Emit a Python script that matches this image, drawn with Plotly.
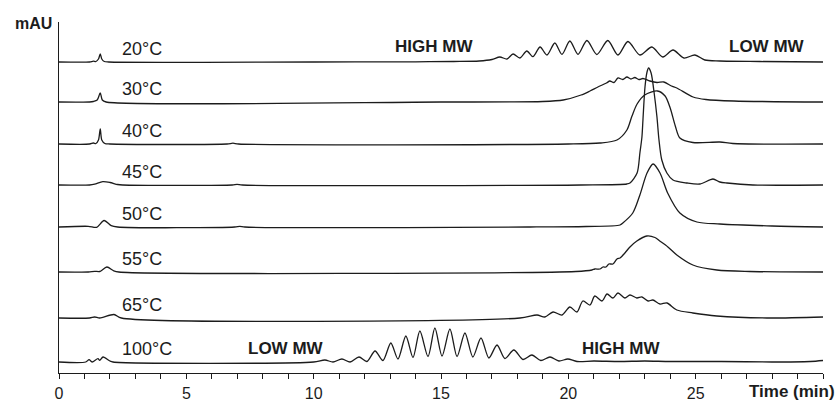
import plotly.graph_objects as go

# ---- data (time in min, signal above each trace's own baseline) ----
labels = ["20°C", "30°C", "40°C", "45°C", "50°C", "55°C", "65°C", "100°C"]
offsets = [311, 271, 229, 188, 146, 101, 55, 11]

t_20 = [0, 1.2, 1.35, 1.45, 1.55, 1.62, 1.68, 1.78, 1.95, 10, 14, 15.5, 16.5, 17.0,
        17.31, 17.59, 17.83, 18.10, 18.37, 18.61, 18.89, 19.16, 19.47, 19.75, 20.06, 20.38,
        20.73, 21.12, 21.55, 21.95, 22.34, 22.81, 23.28, 23.71, 24.11, 24.54, 24.97, 25.36,
        25.95, 27.52, 30]
h_20 = [0, 0, 0.8, 0.5, 3, 8, 3, 0.5, 0, 0, 0.2, 0.5, 1, 2.5,
        5, 3, 8, 4, 11, 5.3, 15, 7, 19, 7.7, 21, 7.7,
        21.5, 7.5, 21.5, 7, 20.5, 7, 15, 5, 12, 4, 7, 2,
        1, 0.5, 0]

t_30 = [0, 1.2, 1.35, 1.5, 1.62, 1.7, 1.85, 15, 19.0, 19.8, 20.5, 20.85, 21.16, 21.5,
        21.63, 21.79, 21.95, 22.14, 22.30, 22.46, 22.61, 22.77, 22.93, 23.2, 23.48, 23.75,
        24.05, 24.26, 24.9, 25.4, 26.5, 30]
h_30 = [0, 0, 0.5, 2, 9, 2, 0, 0, 0.5, 2, 7, 11, 15, 19,
        21, 19.5, 24, 22.5, 25, 23, 24.5, 22.5, 23.5, 21, 19.5, 20,
        16, 14, 5, 2.5, 1, 0]

t_40 = [0, 1.2, 1.35, 1.45, 1.55, 1.62, 1.68, 1.8, 2.0, 6.6, 6.83, 7.05, 20, 21.24, 21.91,
        22.30, 22.5, 22.7, 23.0, 23.5, 23.8, 24.0, 24.2, 24.38, 24.89, 25.95, 26.46, 30]
h_40 = [0, 0, 1, 0.5, 4, 15, 4, 0.5, 0, 0, 0.8, 0, 0, 1, 4,
        14, 28, 40, 49, 53, 48, 36, 18, 6, 1.5, 2, 0.5, 0]

t_45 = [0, 1.2, 1.4, 1.72, 2.0, 2.3, 2.5, 6.8, 6.99, 7.2, 20.5, 22.3, 22.42, 22.7, 22.81,
        22.89, 22.93, 23.01, 23.09, 23.15, 23.25, 23.37, 23.48, 23.56, 23.67, 23.87, 24.11,
        24.66, 25.17, 25.68, 25.95, 26.23, 27.25, 30]
h_45 = [0, 0, 0.8, 3.3, 2.5, 0.5, 0, 0, 0.7, 0, 0, 1, 2, 12, 32,
        48, 65, 98, 113, 117, 112, 92, 68, 45, 25, 12, 5,
        2, 1, 6, 3, 2, 0, 0]

t_50 = [0, 1.15, 1.48, 1.77, 2.05, 2.3, 6.9, 7.1, 7.3, 18.5, 20.7, 22.03, 22.14, 22.53, 22.81,
        23.09, 23.33, 23.6, 23.9, 24.38, 25.05, 25.95, 28, 30]
h_50 = [0, 0.7, -0.3, 6.5, 1.3, 0, 0, 0.7, 0, 0, 0.5, 2, 4, 14, 32,
        54, 63, 54, 34, 14, 5, 3, 1, 0]

t_55 = [0, 1.15, 1.4, 1.6, 1.88, 2.15, 2.35, 20.3, 20.93, 21.04, 21.24, 21.36, 21.48, 21.59,
        21.75, 21.91, 22.03, 22.22, 22.42, 22.69, 23.08, 23.4, 23.59, 23.91, 24.26, 24.89,
        25.83, 27.13, 30]
h_55 = [0, 0, 0.7, 0.5, 5, 1.2, 0, 0.5, 2, 3, 3, 5, 5, 8,
        8, 13, 14, 19, 25, 31, 36, 34.5, 31, 25, 17, 7,
        2, 0.5, 0]

t_65 = [0, 1.2, 1.4, 1.6, 2.16, 2.45, 18.1, 18.77, 19.08, 19.4, 19.75, 20.06, 20.34, 20.57,
        20.85, 21.04, 21.32, 21.52, 21.75, 21.95, 22.22, 22.42, 22.69, 22.89, 23.13, 23.32,
        23.6, 23.87, 24.26, 24.89, 25.83, 27.8, 30]
h_65 = [0, 0, 1, 0, 3.5, 0, 0, 3, 1, 6, 3, 11, 6, 17,
        13, 22, 17, 24, 20, 25, 20, 23, 20, 21, 17, 18,
        14, 15, 8, 5, 2, 0, 1]

t_100 = [0, 1.05, 1.18, 1.3, 1.53, 1.6, 1.73, 2.0, 2.12, 10.0, 10.44, 10.76, 11.11, 11.43,
         11.78, 12.09, 12.41, 12.72, 13.03, 13.31, 13.62, 13.9, 14.17, 14.49, 14.76, 15.04,
         15.35, 15.63, 15.94, 16.25, 16.57, 16.88, 17.2, 17.51, 17.86, 18.22, 18.57, 18.92,
         19.28, 19.63, 19.98, 20.34, 21, 22, 23, 24, 26, 28, 29.5, 30]
h_100 = [0, 0, 2.3, 0, 3.3, 1.7, 5, 1, 0, 0, 2, 0, 3, 0,
         5, 0.5, 11, 1.5, 19, 3, 26, 4.5, 31, 5.5, 34, 6,
         33, 5.5, 29, 5, 24, 4, 17, 3.5, 12, 2.5, 7, 1.5,
         5, 1, 3, 0.5, 1, 0.5, 1, 0.5, 0.5, 0, 0.5, 1.5]

series_t = [t_20, t_30, t_40, t_45, t_50, t_55, t_65, t_100]
series_h = [h_20, h_30, h_40, h_45, h_50, h_55, h_65, h_100]

x_ticks = [0, 5, 10, 15, 20, 25, 30]
x_tick_text = ["0", "5", "10", "15", "20", "25", ""]

mw_labels = [("HIGH MW", 14.72, 327), ("LOW MW", 27.8, 327),
             ("LOW MW", 8.91, 25), ("HIGH MW", 22.07, 25)]

FONT = "Liberation Sans, Arial, Helvetica, sans-serif"
INK = "#1c1c1c"

fig = go.Figure()
for lab, off, ts, hs in zip(labels, offsets, series_t, series_h):
    fig.add_trace(go.Scatter(
        x=ts, y=[off + h for h in hs], mode="lines",
        line=dict(color=INK, width=1.3, shape="spline", smoothing=0.8),
        name=lab, showlegend=False, hoverinfo="skip"))
    fig.add_annotation(x=2.4, y=off + 13, text=lab, showarrow=False,
                       xanchor="left", yanchor="middle",
                       font=dict(family=FONT, size=18, color=INK))

for txt, xt, yv in mw_labels:
    fig.add_annotation(x=xt, y=yv, text="<b>" + txt + "</b>", showarrow=False,
                       xanchor="center", yanchor="middle",
                       font=dict(family=FONT, size=17, color=INK))

fig.add_annotation(xref="paper", yref="paper", x=-0.0065, y=0.997, text="<b>mAU</b>",
                   showarrow=False, xanchor="right", yanchor="middle",
                   font=dict(family=FONT, size=16, color=INK))
fig.add_annotation(xref="paper", yref="paper", x=1.018, y=-0.054, text="<b>Time (min)</b>",
                   showarrow=False, xanchor="right", yanchor="middle",
                   font=dict(family=FONT, size=17, color=INK))

fig.update_layout(
    width=838, height=401,
    margin=dict(l=59, r=15, t=22, b=28),
    paper_bgcolor="white", plot_bgcolor="white",
    xaxis=dict(range=[0, 30], showgrid=False, zeroline=False, showline=True, automargin=False,
               linecolor=INK, linewidth=1.3, ticks="outside", ticklen=5, tickwidth=1.2,
               tickcolor=INK, tickvals=x_ticks, ticktext=x_tick_text, ticklabelstandoff=1,
               tickfont=dict(family=FONT, size=16, color=INK),
               minor=dict(dtick=1, ticks="outside", ticklen=5, tickwidth=1.2, tickcolor=INK)),
    yaxis=dict(range=[0, 351], showgrid=False, zeroline=False, showline=True, automargin=False,
               linecolor=INK, linewidth=1.3, showticklabels=False, ticks=""),
)

# remove the browser's default 8px page margin so the figure fills the window exactly
fig.write_html("out.html", config={"displayModeBar": False},
               post_script="document.body.style.margin='0';document.body.style.overflow='hidden';")
